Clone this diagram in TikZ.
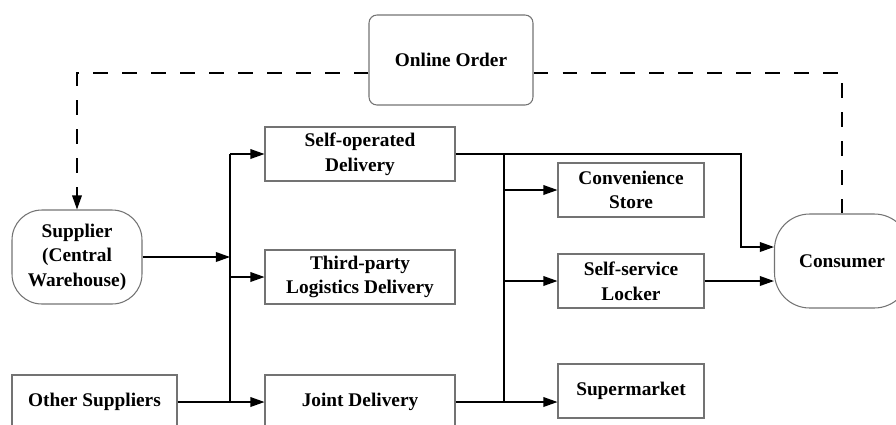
\documentclass[tikz,border=0pt]{standalone}
\usepackage{fontspec}
\setmainfont{Liberation Serif}
\usepackage{tikz}
\usetikzlibrary{%
  positioning,
  arrows.meta,
}

\begin{document}
\begin{tikzpicture}[
    x=0.02cm, y=-0.02cm,
    font=\fontsize{11}{14}\selectfont\bfseries,
    box/.style={draw=black!55, line width=0.6pt, align=center,
      inner sep=0pt, minimum height=1.08cm},
    endbox/.style={box, rounded corners=17pt, minimum width=2.6cm,
      minimum height=1.88cm},
    flow/.style={line width=0.75pt,
      -{Triangle[length=8pt,width=5.5pt]}},
    link/.style={line width=0.75pt},
    order/.style={line width=0.75pt, dash pattern=on 8.5pt off 8pt},
  ]
  \useasboundingbox (0,0) rectangle (896,424);

  % sources and sinks
  \node[box, rounded corners=4.5pt, minimum width=3.28cm,
    minimum height=1.8cm] (online) at (451,60) {Online Order};
  \node[endbox] (supplier) at (77,257)
    {Supplier\\(Central\\Warehouse)};
  \node[box, minimum width=3.3cm] (other) at (94.5,402)
    {Other Suppliers};
  \node[endbox, rounded corners=20pt, minimum width=2.7cm]
    (consumer) at (842,261) {Consumer};

  % delivery modes
  \node[box, minimum width=3.8cm] (self) at (360,154)
    {Self-operated\\Delivery};
  \node[box, minimum width=3.8cm] (third) at (360,277)
    {Third-party\\Logistics Delivery};
  \node[box, minimum width=3.8cm] (joint) at (360,402)
    {Joint Delivery};

  % pick-up points
  \node[box, minimum width=2.92cm] (store) at (631,190)
    {Convenience\\Store};
  \node[box, minimum width=2.92cm] (locker) at (631,281)
    {Self-service\\Locker};
  \node[box, minimum width=2.92cm] (market) at (631,391)
    {Supermarket};

  \coordinate (dashY) at (0,73);
  \coordinate (busL) at (230,0);
  \coordinate (busR) at (504,0);

  % order information
  \draw[order, -{Triangle[length=8pt,width=5.5pt]}]
    (online.west |- dashY) -| (supplier.north);
  \draw[order]
    (online.east |- dashY) -| (consumer.north);

  % left bus
  \draw[flow] (supplier.east) -- (supplier.east -| busL);
  \draw[link] (self.west -| busL) -- (joint.west -| busL);
  \draw[flow] (self.west -| busL) -- (self.west);
  \draw[flow] (third.west -| busL) -- (third.west);
  \draw[flow] (other.east) -- (joint.west);

  % right bus
  \draw[link] (self.east -| busR) -- (joint.east -| busR);
  \draw[flow] (store.west -| busR) -- (store.west);
  \draw[flow] (locker.west -| busR) -- (locker.west);
  \draw[flow] (joint.east) -- (joint.east -| market.west);

  % to consumer
  \draw[flow] (self.east)
    -| ([xshift=-0.66cm, yshift=0.28cm]consumer.west)
    -- ([yshift=0.28cm]consumer.west);
  \draw[flow] (locker.east) -- (locker.east -| consumer.west);
\end{tikzpicture}
\end{document}
